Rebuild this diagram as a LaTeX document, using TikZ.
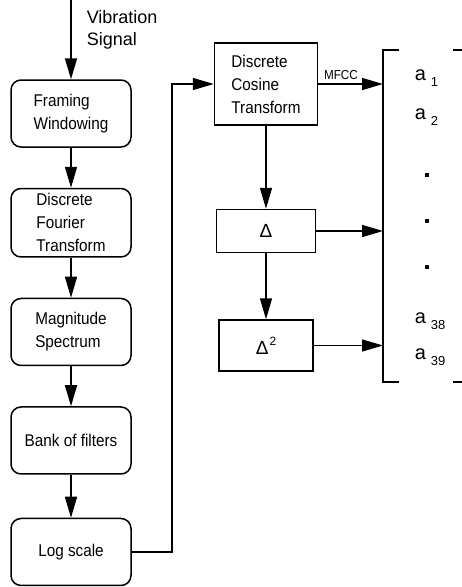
\documentclass[tikz,border=0pt]{standalone}
\usepackage{fontspec}
\setmainfont{Liberation Sans}
\newfontfamily\narrowsans{Liberation Sans}[FakeStretch=0.9]
\usetikzlibrary{arrows.meta}
\usetikzlibrary{positioning}

\newcommand{\coef}[1]{a\hspace{5pt}\raisebox{-6.5pt}{\fontsize{13}{13}\selectfont #1}}

\begin{document}
\begin{tikzpicture}[x=1pt, y=-1pt, ->, >={Triangle[length=21pt,width=12pt]}, line width=1.5pt, node distance=40pt,
  stage/.style={draw, rounded corners=10pt, minimum width=120pt, minimum height=67pt, inner ysep=5pt, align=left, font=\narrowsans\fontsize{17}{23}\selectfont},
  block/.style={draw, inner ysep=5pt, align=left, font=\narrowsans\fontsize{17}{23}\selectfont},
  delta/.style={draw, font=\fontsize{19}{19}\selectfont},
  coef/.style={anchor=base west, inner sep=0pt, font=\fontsize{20}{20}\selectfont},
  dot/.style={rectangle, fill, minimum size=3.5pt, inner sep=0pt},
  bracket/.style={-, line width=2.5pt}]
  \useasboundingbox (0,0) rectangle (462,587);

	  \node[stage] (frame) at (71,113.5) {Framing\\Windowing};
	  \node[stage] (dft) [below = 40pt of frame] {Discrete\\Fourier\\Transform};
	  \node[stage] (mag) [below = 40pt of dft] {Magnitude\\Spectrum};
	  \node[stage] (bank) [below = 40pt of mag] {Bank of filters};
	  \node[stage] (log) [below = 43pt of bank] {Log scale};

	  \node[block, minimum width=103pt, minimum height=82pt] (dct) at (266,84) {Discrete\\Cosine\\Transform};
	  \node[delta, minimum width=99pt, minimum height=43pt] (d1) [below = 83pt of dct] {Δ};
	  \node[delta, minimum width=94pt, minimum height=51pt] (d2) [below = 66pt of d1] {Δ\hspace{1pt}\raisebox{9pt}{\fontsize{12}{12}\selectfont 2}};

	  \node[anchor=north west, inner sep=0pt, align=left, font=\fontsize{18}{22}\selectfont] (sig) at (86,10) {Vibration\\Signal};
	  \coordinate (src) at (71,0);
	  \coordinate (turn) at (172,84);
	  \coordinate (vtop) at (383,50);
	  \coordinate (vbot) at (383,382);

	  % feature vector
	  \draw[bracket] (399,50) -- (vtop) -- (vbot) -- (399,382);
	  \draw[bracket] (453,50) -- (462,50);
	  \draw[bracket] (453,382) -- (462,382);
	  \node[coef] (a1) at (414,80) {\coef{1}};
	  \node[coef] (a2) at (414,119) {\coef{2}};
	  \node[dot] (p1) at (427,175) {};
	  \node[dot] (p2) at (427,221) {};
	  \node[dot] (p3) at (427,267) {};
	  \node[coef] (a38) at (414,323) {\coef{38}};
	  \node[coef] (a39) at (414,359) {\coef{39}};

	  \draw (src) -- (frame);
	  \draw (frame) -- (dft);
	  \draw (dft) -- (mag);
	  \draw (mag) -- (bank);
	  \draw (bank) -- (log);
	  \draw (log.east) -| (turn) -- (dct.west);
	  \draw (dct) -- (d1);
	  \draw (d1) -- (d2);
	  \draw (dct.east) -- node[above, pos=0.35, font=\narrowsans\fontsize{13}{13}\selectfont] {MFCC} (dct.east -| vtop);
	  \draw (d1.east) -- (d1.east -| vtop);
	  \draw (d2.east) -- (d2.east -| vtop);

\end{tikzpicture}
\end{document}
